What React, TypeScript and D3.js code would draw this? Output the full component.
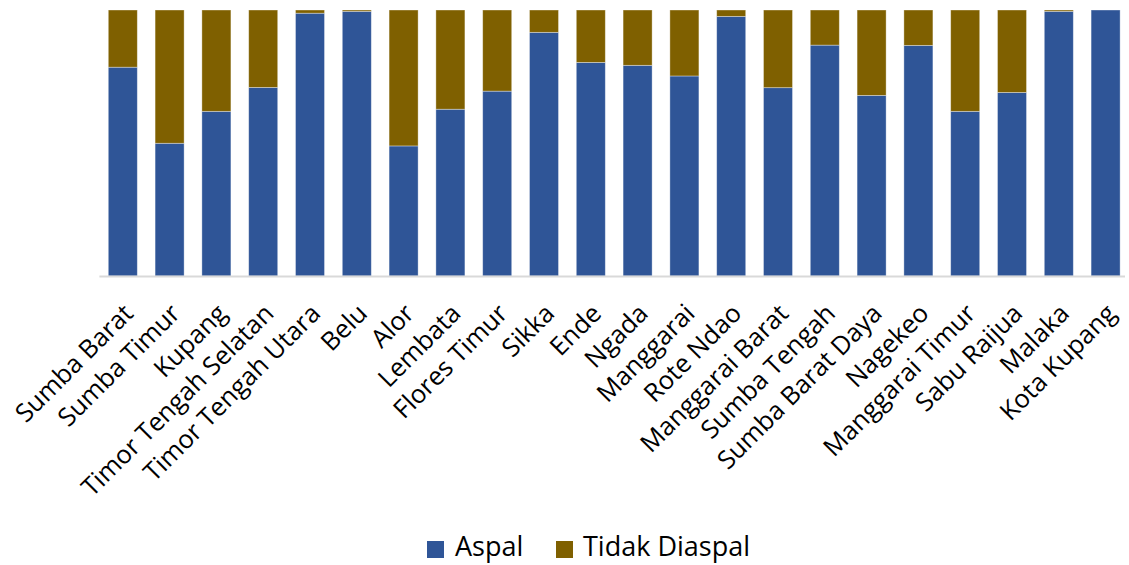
import * as d3 from "d3";

// kabupaten / kota
const categories = [
  "Sumba Barat",
  "Sumba Timur",
  "Kupang",
  "Timor Tengah Selatan",
  "Timor Tengah Utara",
  "Belu",
  "Alor",
  "Lembata",
  "Flores Timur",
  "Sikka",
  "Ende",
  "Ngada",
  "Manggarai",
  "Rote Ndao",
  "Manggarai Barat",
  "Sumba Tengah",
  "Sumba Barat Daya",
  "Nagekeo",
  "Manggarai Timur",
  "Sabu Raijua",
  "Malaka",
  "Kota Kupang",
];

// persen jalan aspal
const aspal = [
  78.5, 49.9, 61.9, 70.9, 98.8, 99.5, 48.9, 62.7, 69.5, 91.6, 80.3, 79.2, 75.2,
  97.6, 70.8, 86.8, 67.9, 86.7, 61.9, 69.0, 99.5, 100,
];

// persen tidak diaspal
const tidakDiaspal = [
  21.5, 50.1, 38.1, 29.1, 1.2, 0.5, 51.1, 37.3, 30.5, 8.4, 19.7, 20.8, 24.8,
  2.4, 29.2, 13.2, 32.1, 13.3, 38.1, 31.0, 0.5, 0,
];

const seriesNames = ["Aspal", "Tidak Diaspal"];
const colors = ["#2F5597", "#7F6000"];

const W = 1129;
const H = 565;
const margin = { top: 10, right: 0, bottom: 289, left: 99.4 };
const font = "'Open Sans', sans-serif";

export default function App() {
  const rows = categories.map((c, i) => ({
    name: c,
    Aspal: aspal[i],
    "Tidak Diaspal": tidakDiaspal[i],
  }));

  const stack = d3.stack<any>().keys(seriesNames).offset(d3.stackOffsetExpand);
  const layers = stack(rows);

  const x = d3
    .scaleBand()
    .domain(categories)
    .range([margin.left, W - margin.right])
    .paddingInner(0.38)
    .paddingOuter(0.19);

  const y = d3
    .scaleLinear()
    .domain([0, 1])
    .range([H - margin.bottom, margin.top]);

  const baseY = H - margin.bottom;

  return (
    <svg
      width={W}
      height={H}
      style={{ position: "absolute", left: 0, top: 0, background: "#fff" }}
      fontFamily={font}
    >
      {/* batang */}
      {layers.map((layer, li) => (
        <g key={layer.key} fill={colors[li]}>
          {layer.map((d, i) => (
            <rect
              key={i}
              x={x(categories[i])}
              y={y(d[1])}
              width={x.bandwidth()}
              height={Math.max(0, y(d[0]) - y(d[1]))}
              stroke="#ffffff"
              strokeOpacity={0.45}
              strokeWidth={0.8}
            />
          ))}
        </g>
      ))}

      {/* garis sumbu */}
      <line
        x1={margin.left}
        x2={W - 4}
        y1={baseY + 0.5}
        y2={baseY + 0.5}
        stroke="#d9d9d9"
        strokeWidth={2}
      />

      {/* label kategori */}
      {categories.map((c) => {
        const cx = (x(c) as number) + x.bandwidth() / 2 + 12;
        const cy = baseY + 39;
        return (
          <text
            key={c}
            transform={`translate(${cx},${cy}) rotate(-45)`}
            textAnchor="end"
            fontSize={25.5}
            fill="#000"
          >
            {c}
          </text>
        );
      })}

      {/* legenda */}
      <g fontSize={27} fill="#000">
        <rect x={427} y={541} width={17} height={17} fill={colors[0]} />
        <text x={455} y={556}>
          {seriesNames[0]}
        </text>
        <rect x={556} y={541} width={17} height={17} fill={colors[1]} />
        <text x={583} y={556}>
          {seriesNames[1]}
        </text>
      </g>
    </svg>
  );
}
